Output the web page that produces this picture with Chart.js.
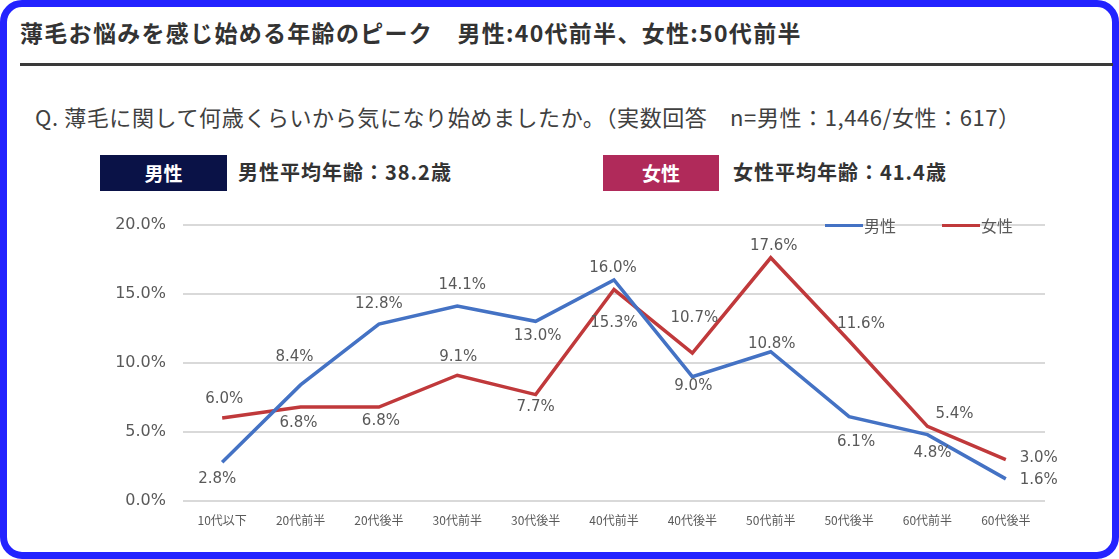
<!DOCTYPE html>
<html lang="ja">
<head>
<meta charset="utf-8">
<script src="https://cdn.jsdelivr.net/npm/chart.js@4.4.1/dist/chart.umd.min.js"></script>
<style>
  html, body { margin: 0; padding: 0; background: #fff; }
  body { width: 1119px; height: 559px; position: relative; overflow: hidden;
         font-family: "Noto Sans CJK JP", "Noto Sans", sans-serif; color: #333; }
  .frame { position: absolute; left: 0; top: 0; width: 1105px; height: 545px;
           border: 7px solid #2323ff; border-radius: 22px; }
  .title { position: absolute; left: 20px; top: 15px; font-size: 23px; font-weight: bold;
           color: #333; white-space: nowrap; letter-spacing: 1.3px; }
  .rule { position: absolute; left: 20px; top: 63px; width: 1093px; height: 3px; background: #3a3a3a; }
  .question { position: absolute; left: 35px; top: 100px; font-size: 22px; color: #404040;
              white-space: nowrap; letter-spacing: 0.6px; }
  .tag { position: absolute; top: 155px; height: 36px; line-height: 36px; text-align: center;
         color: #fff; font-weight: bold; font-size: 19px; }
  .avg { position: absolute; top: 157px; font-size: 20px; font-weight: bold; color: #333;
         white-space: nowrap; letter-spacing: 1px; }
  #wrap { position: absolute; left: 100px; top: 198px; width: 960px; height: 343px; }
</style>
</head>
<body>
<div class="frame"></div>
<div class="title">薄毛お悩みを感じ始める年齢のピーク　男性:40代前半、女性:50代前半</div>
<div class="rule"></div>
<div class="question">Q. 薄毛に関して何歳くらいから気になり始めましたか。（実数回答　n=男性：1,446/女性：617）</div>
<div class="tag" style="left:100px;width:127px;background:#0a1247;">男性</div>
<div class="avg" style="left:238px;">男性平均年齢：38.2歳</div>
<div class="tag" style="left:603px;width:116px;background:#b02a5a;">女性</div>
<div class="avg" style="left:733px;">女性平均年齢：41.4歳</div>
<div id="wrap"><canvas id="lineChart"></canvas></div>

<script>
const categories = ["10代以下", "20代前半", "20代後半", "30代前半", "30代後半", "40代前半",
  "40代後半", "50代前半", "50代後半", "60代前半", "60代後半"];
const maleValues = [2.8, 8.4, 12.8, 14.1, 13.0, 16.0, 9.0, 10.8, 6.1, 4.8, 1.6];
const femaleValues = [6.0, 6.8, 6.8, 9.1, 7.7, 15.3, 10.7, 17.6, 11.6, 5.4, 3.0];
const yTicks = [0, 5, 10, 15, 20];

// データラベルのずらし量 [dx, dy]
const maleLabelShift = [[-5, 17], [-6, -28], [0, -20], [5, -21], [2, 15], [-1, -12],
  [1, 9], [1, -8], [7, 25], [5, 18], [33, 1]];
const femaleLabelShift = [[2, -19], [-2, 16], [2, 14], [1, -18], [0, 13], [0, 34],
  [2, -35], [3, -12], [12, -17], [27, -12], [33, -1]];

const labelColor = "#595959";

const pointLabels = {
  id: "pointLabels",
  afterDatasetsDraw(chart) {
    const ctx = chart.ctx;
    ctx.save();
    ctx.font = "15px 'DejaVu Sans', sans-serif";
    ctx.fillStyle = labelColor;
    ctx.textBaseline = "middle";
    ctx.textAlign = "center";
    chart.data.datasets.forEach((ds, i) => {
      const meta = chart.getDatasetMeta(i);
      const shifts = i === 0 ? maleLabelShift : femaleLabelShift;
      meta.data.forEach((pt, j) => {
        const txt = ds.data[j].toFixed(1) + "%";
        ctx.fillText(txt, pt.x + shifts[j][0], pt.y + shifts[j][1]);
      });
    });
    ctx.restore();
  },
  afterDraw(chart) {
    // 凡例 (プロット内右上)
    const ctx = chart.ctx;
    const area = chart.chartArea;
    ctx.save();
    ctx.font = "16px 'Noto Sans CJK JP', sans-serif";
    ctx.textBaseline = "middle";
    ctx.textAlign = "left";
    const y = area.top + 1;
    let x = area.right - 220;
    chart.data.datasets.forEach((ds) => {
      ctx.strokeStyle = ds.borderColor;
      ctx.lineWidth = 3;
      ctx.beginPath();
      ctx.moveTo(x, y);
      ctx.lineTo(x + 38, y);
      ctx.stroke();
      ctx.fillStyle = labelColor;
      ctx.fillText(ds.label, x + 39, y);
      x += 117;
    });
    ctx.restore();
  },
};

new Chart(document.getElementById("lineChart"), {
  type: "line",
  data: {
    labels: categories,
    datasets: [
      {
        label: "男性",
        data: maleValues,
        borderColor: "#4472c4",
        backgroundColor: "#4472c4",
        borderWidth: 3.5,
        pointRadius: 0,
        tension: 0,
      },
      {
        label: "女性",
        data: femaleValues,
        borderColor: "#c0393b",
        backgroundColor: "#c0393b",
        borderWidth: 3.5,
        pointRadius: 0,
        tension: 0,
      },
    ],
  },
  options: {
    responsive: true,
    maintainAspectRatio: false,
    animation: false,
    layout: { padding: { top: 14, right: 15, left: 0, bottom: 0 } },
    plugins: {
      legend: { display: false },
      tooltip: { enabled: false },
    },
    scales: {
      x: {
        offset: true,
        grid: { display: false, drawTicks: false },
        border: { display: false },
        ticks: {
          color: labelColor,
          font: { size: 12, family: "'Noto Sans CJK JP', sans-serif" },
          padding: 12,
          maxRotation: 0,
          autoSkip: false,
        },
        afterFit(scale) { scale.height = 40; },
      },
      y: {
        min: 0,
        max: 20,
        afterBuildTicks(scale) { scale.ticks = yTicks.map((v) => ({ value: v })); },
        grid: { color: "#d9d9d9", lineWidth: 2, drawTicks: false },
        border: { display: false },
        ticks: {
          color: labelColor,
          font: { size: 16, family: "'DejaVu Sans', sans-serif" },
          padding: 17,
          callback: (v) => v.toFixed(1) + "%",
        },
        afterFit(scale) { scale.width = 83; },
      },
    },
  },
  plugins: [pointLabels],
});
</script>
</body>
</html>
